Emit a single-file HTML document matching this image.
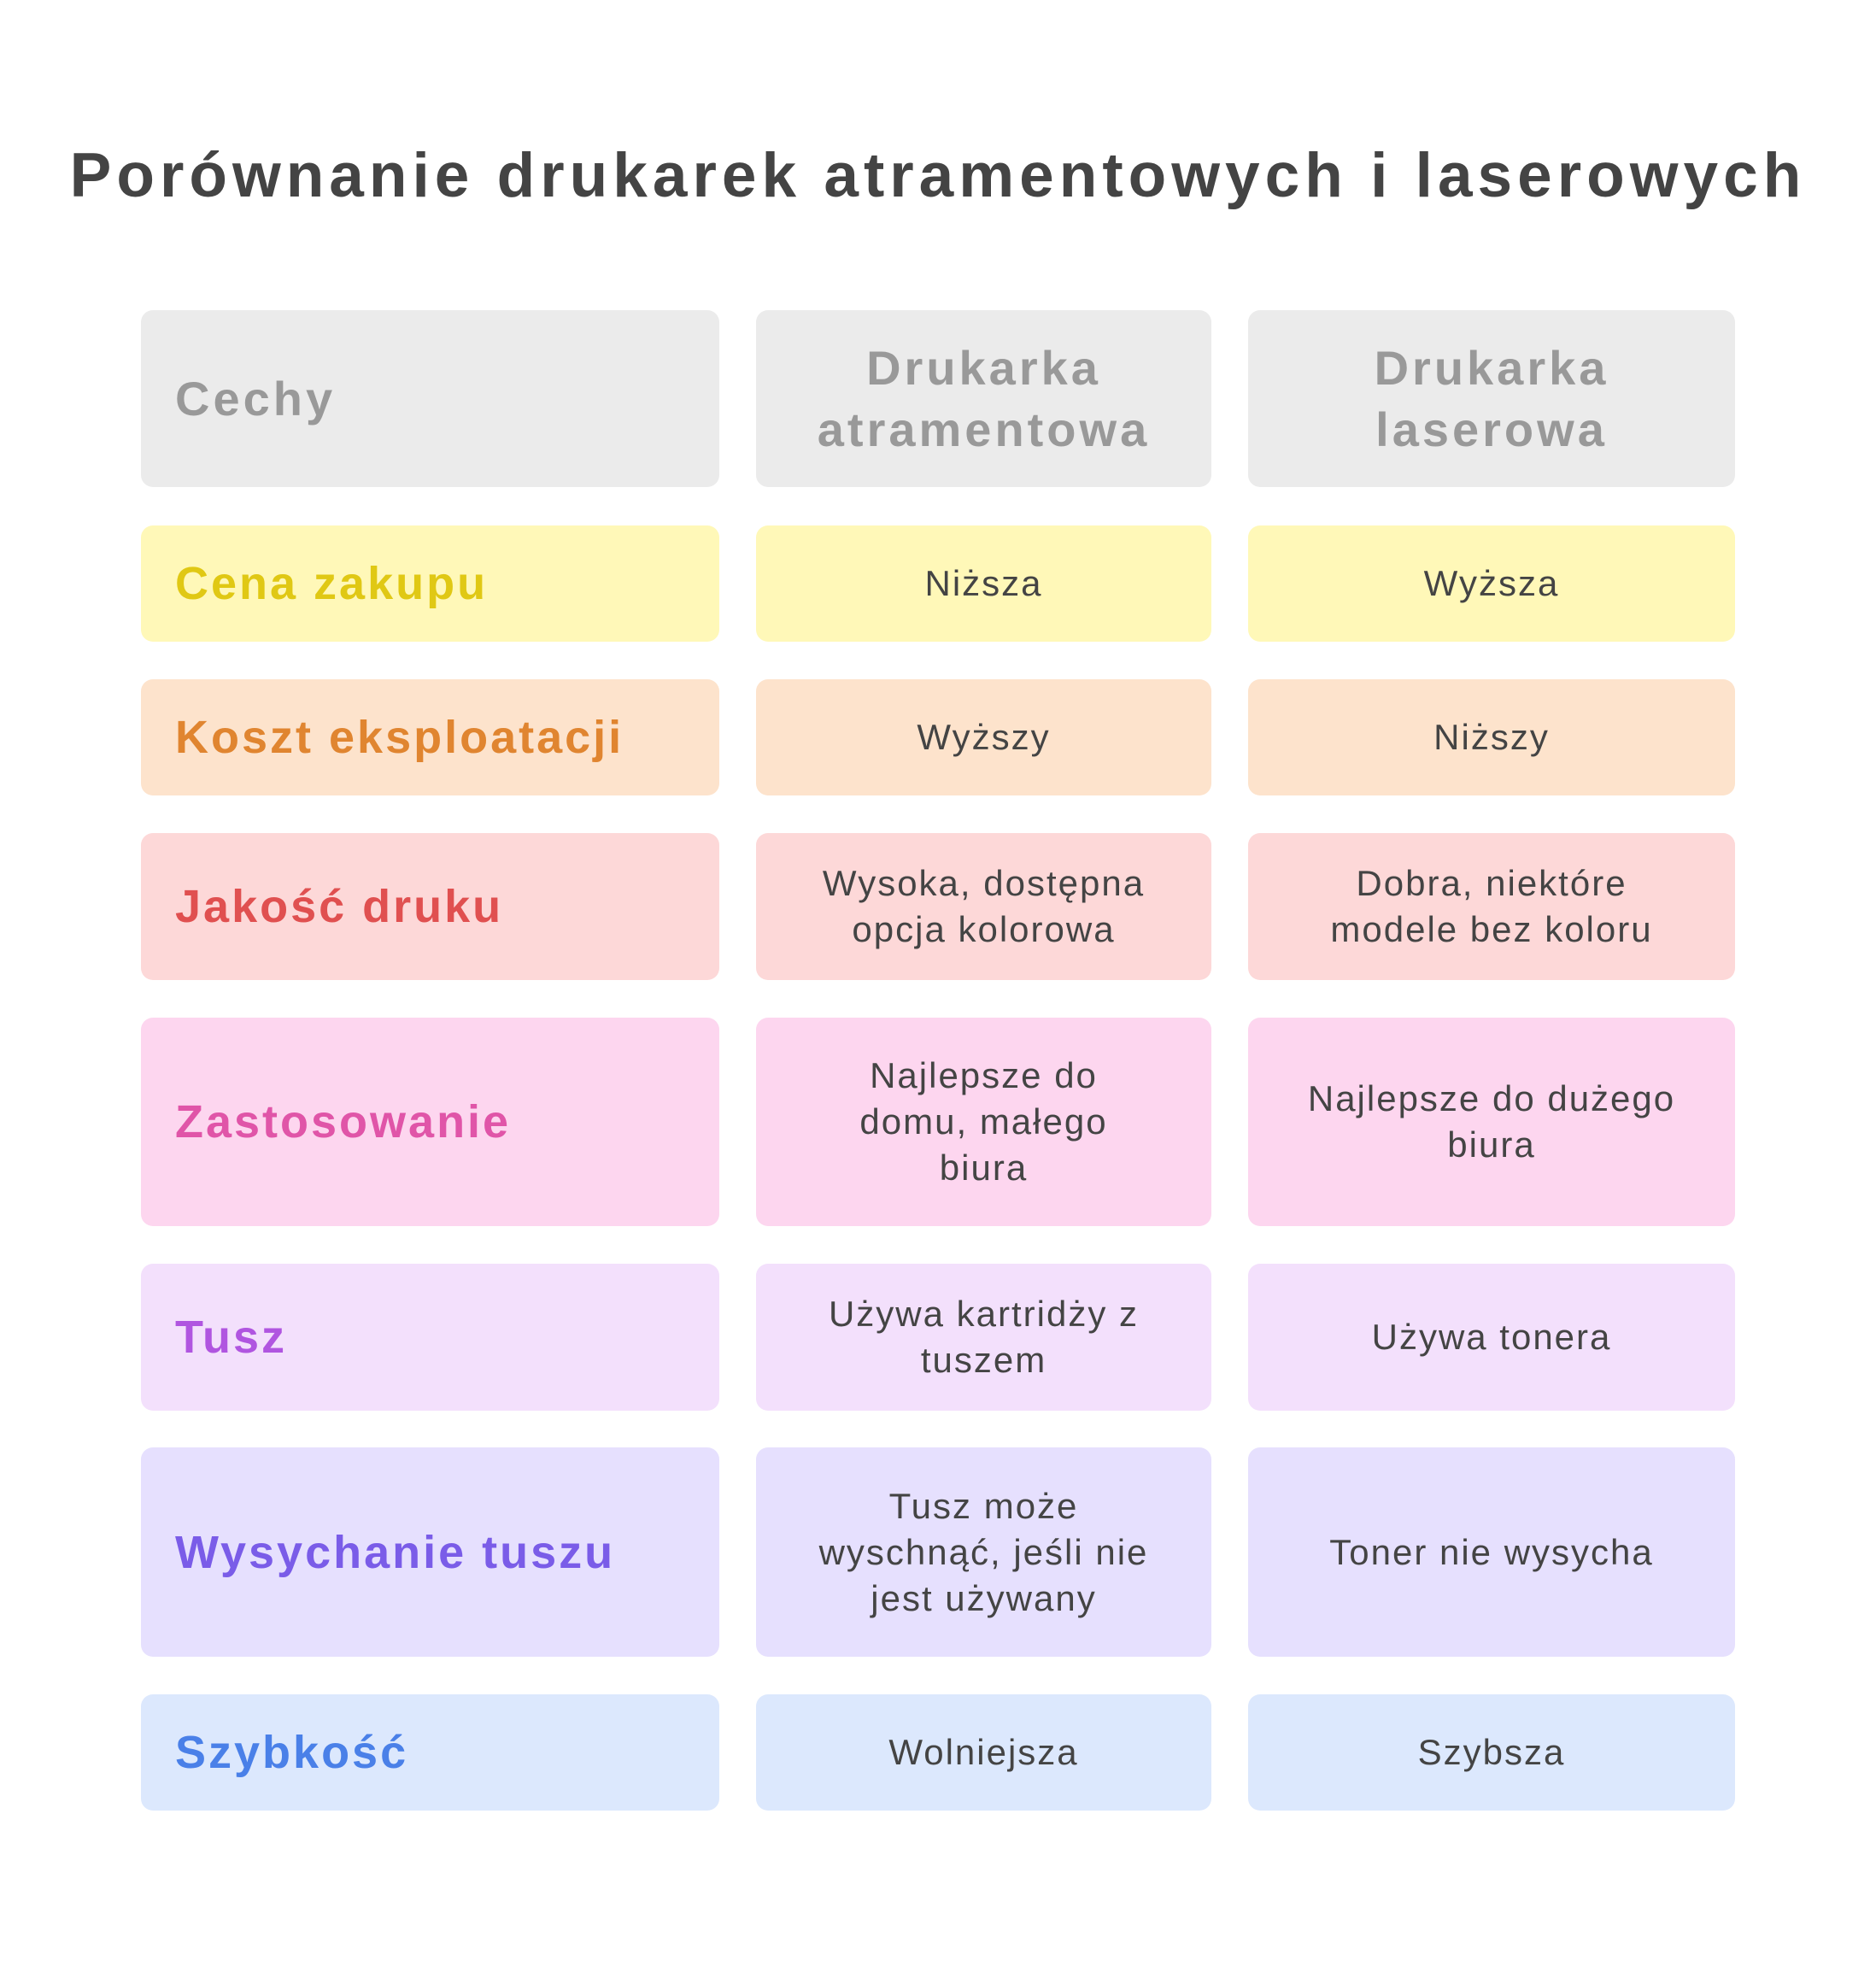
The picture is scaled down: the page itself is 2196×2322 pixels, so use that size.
<!DOCTYPE html>
<html><head><meta charset="utf-8"><style>
body{margin:0;width:2196px;height:2322px;background:#fff;position:relative;font-family:"Liberation Sans",sans-serif;overflow:hidden}
.t{position:absolute;left:0;width:2196px;top:164px;text-align:center;font-weight:bold;font-size:73px;color:#444;letter-spacing:6px}
.c{position:absolute;border-radius:14px;display:flex;align-items:center;justify-content:center;text-align:center;box-sizing:border-box;color:#444;font-size:42px;line-height:54px;padding:0 30px;letter-spacing:2px}
.l{justify-content:flex-start;text-align:left;padding-left:40px;font-weight:bold;font-size:54px;letter-spacing:3px}
.h{font-weight:bold;font-size:56px;color:#999;line-height:72px;letter-spacing:4px}
</style></head><body>
<div class="t">Porównanie drukarek atramentowych i laserowych</div>

<div class="c l h" style="left:165px;width:677px;top:363px;height:207px;background:#ebebeb">Cechy</div>
<div class="c h" style="left:885px;width:533px;top:363px;height:207px;background:#ebebeb">Drukarka<br>atramentowa</div>
<div class="c h" style="left:1461px;width:570px;top:363px;height:207px;background:#ebebeb">Drukarka<br>laserowa</div>

<div class="c l" style="left:165px;width:677px;top:615px;height:136px;background:#fff8b8;color:#e0c814">Cena zakupu</div>
<div class="c" style="left:885px;width:533px;top:615px;height:136px;background:#fff8b8">Niższa</div>
<div class="c" style="left:1461px;width:570px;top:615px;height:136px;background:#fff8b8">Wyższa</div>

<div class="c l" style="left:165px;width:677px;top:795px;height:136px;background:#fde3cc;color:#e08530">Koszt eksploatacji</div>
<div class="c" style="left:885px;width:533px;top:795px;height:136px;background:#fde3cc">Wyższy</div>
<div class="c" style="left:1461px;width:570px;top:795px;height:136px;background:#fde3cc">Niższy</div>

<div class="c l" style="left:165px;width:677px;top:975px;height:172px;background:#fdd8d8;color:#e05050">Jakość druku</div>
<div class="c" style="left:885px;width:533px;top:975px;height:172px;background:#fdd8d8">Wysoka, dostępna<br>opcja kolorowa</div>
<div class="c" style="left:1461px;width:570px;top:975px;height:172px;background:#fdd8d8">Dobra, niektóre<br>modele bez koloru</div>

<div class="c l" style="left:165px;width:677px;top:1191px;height:244px;background:#fdd6ef;color:#e055a8">Zastosowanie</div>
<div class="c" style="left:885px;width:533px;top:1191px;height:244px;background:#fdd6ef">Najlepsze do<br>domu, małego<br>biura</div>
<div class="c" style="left:1461px;width:570px;top:1191px;height:244px;background:#fdd6ef">Najlepsze do dużego<br>biura</div>

<div class="c l" style="left:165px;width:677px;top:1479px;height:172px;background:#f3e0fc;color:#b055e0">Tusz</div>
<div class="c" style="left:885px;width:533px;top:1479px;height:172px;background:#f3e0fc">Używa kartridży z<br>tuszem</div>
<div class="c" style="left:1461px;width:570px;top:1479px;height:172px;background:#f3e0fc">Używa tonera</div>

<div class="c l" style="left:165px;width:677px;top:1694px;height:245px;background:#e6e0fe;color:#7a5ce8">Wysychanie tuszu</div>
<div class="c" style="left:885px;width:533px;top:1694px;height:245px;background:#e6e0fe">Tusz może<br>wyschnąć, jeśli nie<br>jest używany</div>
<div class="c" style="left:1461px;width:570px;top:1694px;height:245px;background:#e6e0fe">Toner nie wysycha</div>

<div class="c l" style="left:165px;width:677px;top:1983px;height:136px;background:#dce8fd;color:#4a80e8">Szybkość</div>
<div class="c" style="left:885px;width:533px;top:1983px;height:136px;background:#dce8fd">Wolniejsza</div>
<div class="c" style="left:1461px;width:570px;top:1983px;height:136px;background:#dce8fd">Szybsza</div>
</body></html>
